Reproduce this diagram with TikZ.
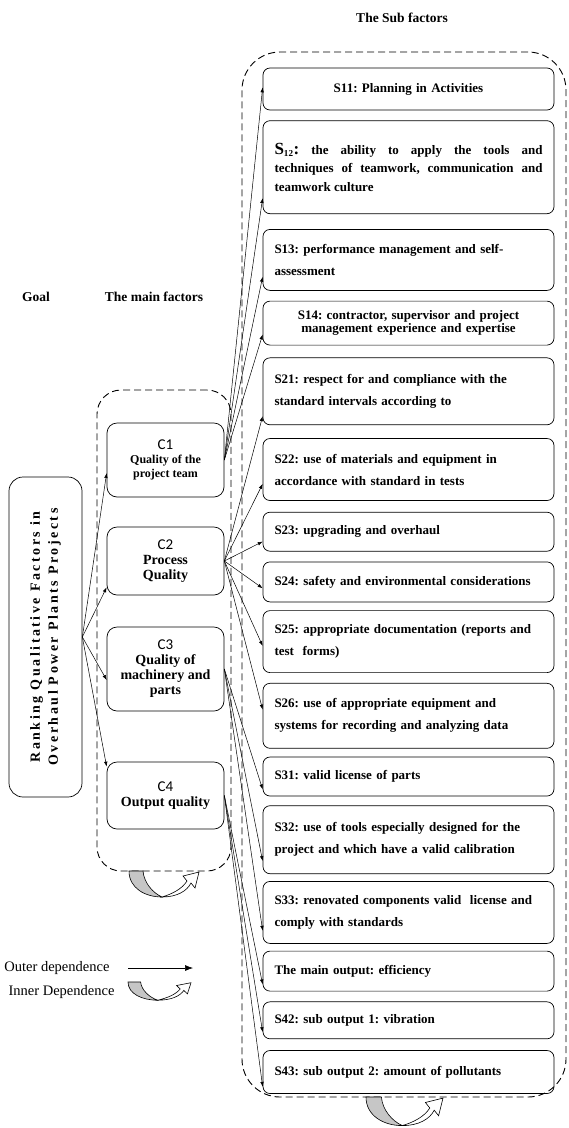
\documentclass[tikz,border=0pt]{standalone}
\usepackage{fontspec}
\setmainfont{Liberation Serif}
\newfontfamily\cfont{Carlito}
\usetikzlibrary{arrows.meta,positioning}
\frenchspacing

% twisted ribbon used for inner dependence
\tikzset{
  innerdep/.pic={
    \draw[fill=gray!45,line width=0.6pt] (0,0) .. controls (0,17) and (16,26) .. (33,26)
      .. controls (24,22) and (15,12) .. (14,0) -- cycle;
    \draw[fill=white,line width=0.6pt] (33,26) .. controls (48,26) and (58,20) .. (62,12)
      -- (66,17) -- (70,1) -- (54,5) -- (58,10) .. controls (53,18) and (43,23) .. (33,26) -- cycle;
  }
}

\begin{document}
\begin{tikzpicture}[
  x=1pt, y=-1pt,
  every node/.style={font=\bfseries\fontsize{13}{15}\selectfont},
  head/.style={font=\bfseries\fontsize{13.5}{16}\selectfont},
  dashbox/.style={draw,dash pattern=on 7pt off 4pt,line width=0.9pt},
  goalbox/.style={draw,line width=0.7pt,rounded corners=14pt,minimum width=320pt,minimum height=73pt,
    align=center,rotate=90,font=\bfseries\fontsize{14}{18}\selectfont\addfontfeatures{LetterSpace=18}},
  cbox/.style={draw,line width=0.7pt,rounded corners=10pt,minimum width=117pt,align=center,
    font=\bfseries\fontsize{14}{15}\selectfont},
  sbox/.style={draw,line width=0.7pt,rounded corners=7pt,text width=268pt,inner xsep=11.5pt,
    align=left,font=\bfseries\fontsize{13}{22}\selectfont},
  arr/.style={-{Latex[length=5pt,width=3.5pt]},line width=0.5pt},
  legend/.style={font=\fontsize{14.5}{16}\selectfont}
]
\useasboundingbox (0,0) rectangle (569,1128);

% headings
\node[head] (goalhead) at (36,297) {Goal};
\node[head] (mainhead) at (154,297) {The main factors};
\node[head] (subhead) at (402,18) {The Sub factors};

% dashed groups
\node[dashbox,rounded corners=24pt,minimum width=134pt,minimum height=481pt] (maingroup) at (164,630.5) {};
\node[dashbox,rounded corners=38pt,minimum width=324pt,minimum height=1045pt] (subgroup) at (404,574.5) {};

% goal
\node[goalbox] (goal) at (45.5,637) {Ranking Qualitative Factors in\\Overhaul Power Plants Projects};

% main factors
\node[cbox,minimum height=74pt,font=\bfseries\fontsize{12}{14}\selectfont] (c1) at (165.5,460)
  {{\cfont\mdseries\fontsize{15}{15}\selectfont C1}\\Quality of the\\project team};
\node[cbox,minimum height=68pt] (c2) at (165.5,561)
  {{\cfont\mdseries\fontsize{15}{15}\selectfont C2}\\Process\\Quality};
\node[cbox,minimum height=84pt] (c3) at (165.5,669)
  {{\cfont\mdseries\fontsize{15}{15}\selectfont C3}\\Quality of\\machinery and\\parts};
\node[cbox,minimum height=67pt] (c4) at (165.5,795.5)
  {{\cfont\mdseries\fontsize{15}{15}\selectfont C4}\\Output quality};

% sub factors
\node[sbox,align=center,minimum height=42pt] (s11) at (408.5,89) {S11: Planning in Activities};
\node[sbox,align=justify,minimum height=93pt,font=\bfseries\fontsize{13}{18.5}\selectfont,below=10pt of s11] (s12)
  {{\fontsize{17}{17}\selectfont S}\textsubscript{12}{\fontsize{17}{17}\selectfont:} the ability to apply the tools and\linebreak
   techniques of teamwork, communication and\linebreak teamwork culture\par\vspace{24pt}};
\node[sbox,minimum height=61pt,below=15pt of s12] (s13) {S13: performance management and self-\\assessment};
\node[sbox,align=center,minimum height=44pt,font=\bfseries\fontsize{13}{13}\selectfont,below=10pt of s13] (s14)
  {S14: contractor, supervisor and project\\management experience and expertise};
\node[sbox,minimum height=67pt,below=12pt of s14] (s21) {S21: respect for and compliance with the\\standard intervals according to};
\node[sbox,minimum height=62pt,below=13pt of s21] (s22) {S22: use of materials and equipment in\\accordance with standard in tests};
\node[sbox,minimum height=39pt,below=11pt of s22] (s23) {S23: upgrading and overhaul};
\node[sbox,minimum height=40pt,below=10pt of s23] (s24) {S24: safety and environmental considerations};
\node[sbox,minimum height=62pt,below=8pt of s24] (s25) {S25: appropriate documentation (reports and\\test\ \ forms)};
\node[sbox,minimum height=65pt,below=10pt of s25] (s26) {S26: use of appropriate equipment and\\systems for recording and analyzing data};
\node[sbox,minimum height=39pt,below=8pt of s26] (s31) {S31: valid license of parts};
\node[sbox,minimum height=68pt,below=9pt of s31] (s32) {S32: use of tools especially designed for the\\project and which have a valid calibration};
\node[sbox,minimum height=62pt,below=7pt of s32] (s33) {S33: renovated components valid\ \ license and\\comply with standards};
\node[sbox,minimum height=40pt,below=7pt of s33] (s41) {The main output: efficiency};
\node[sbox,minimum height=37pt,below=10pt of s41] (s42) {S42: sub output 1: vibration};
\node[sbox,minimum height=43pt,below=11pt of s42] (s43) {S43: sub output 2: amount of pollutants};

% outer dependence: goal to main factors
\draw[arr] (goal.south) -- ([yshift=-13pt]c1.west);
\draw[arr] (goal.south) -- ([yshift=8pt]c2.south west);
\draw[arr] (goal.south) -- ([yshift=-11pt]c3.west);
\draw[arr] (goal.south) -- ([yshift=-5pt]c4.north west);

% outer dependence: main factors to sub factors
\foreach \c/\s/\h in {c1/s11/23,c1/s12/16,c1/s13/14,c1/s14/11,
    c2/s21/9,c2/s22/17,c2/s23/10,c2/s24/14,c2/s25/27,c2/s26/39,
    c3/s31/7,c3/s32/13,c3/s33/13,c4/s41/7,c4/s42/7,c4/s43/7}
  \draw[arr] (\c.east) -- ([yshift=\h pt]\s.south west);

% inner dependence
\pic at (129,871) {innerdep};
\pic[scale=1.1] at (366,1097) {innerdep};

% legend
\node[legend,anchor=east] (outerlbl) at (113,968) {Outer dependence};
\node[legend,anchor=east] (innerlbl) at (118,992) {Inner Dependence};
\coordinate (outerA) at (128,968);
\coordinate (outerB) at (193,968);
\draw[-{Latex[length=8pt,width=6pt]},line width=0.6pt] (outerA) -- (outerB);
\pic[xscale=0.9,yscale=0.7] at (128,982) {innerdep};
\end{tikzpicture}
\end{document}
